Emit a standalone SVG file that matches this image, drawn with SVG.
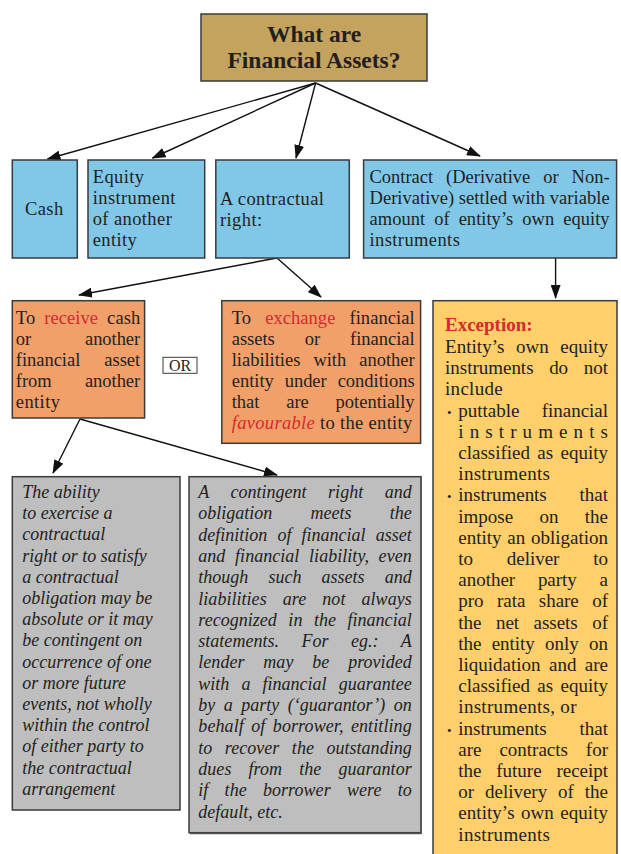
<svg xmlns="http://www.w3.org/2000/svg" width="621" height="854" viewBox="0 0 621 854">
<defs>
<style>
.box{stroke:#3a3a3a;stroke-width:1.5}
text{font-family:"Liberation Serif","Times New Roman",serif;fill:#231f20}
.r{font-size:18.5px;letter-spacing:0.4px}
.y{font-size:19px;letter-spacing:0.3px}
.i{font-size:18px;font-style:italic}
.t{font-size:23.5px;font-weight:bold}
.red{fill:#d52a2f}
.conn{stroke:#111;stroke-width:1.4;fill:none}
</style>
<marker id="ah" markerUnits="userSpaceOnUse" markerWidth="14" markerHeight="10" viewBox="0 0 14 10" refX="13" refY="5" orient="auto">
<path d="M0,0 L14,5 L0,10 z" fill="#111"/>
</marker>
</defs>
<rect width="621" height="854" fill="#ffffff"/>

<g id="connectors">
<line class="conn" x1="315.6" y1="83" x2="47.5" y2="159" marker-end="url(#ah)"/>
<line class="conn" x1="315.6" y1="83" x2="152.5" y2="158" marker-end="url(#ah)"/>
<line class="conn" x1="315.6" y1="83" x2="296" y2="158" marker-end="url(#ah)"/>
<line class="conn" x1="315.6" y1="83" x2="480" y2="156" marker-end="url(#ah)"/>
<line class="conn" x1="277" y1="258" x2="79" y2="295" marker-end="url(#ah)"/>
<line class="conn" x1="277" y1="258" x2="321" y2="297" marker-end="url(#ah)"/>
<line class="conn" x1="555.6" y1="258" x2="555.6" y2="298" marker-end="url(#ah)"/>
<line class="conn" x1="80" y1="419" x2="53" y2="473" marker-end="url(#ah)"/>
<line class="conn" x1="80" y1="419" x2="277" y2="475" marker-end="url(#ah)"/>
</g>

<g id="title">
<rect class="box" x="201" y="14" width="226" height="67" fill="#c4a35e"/>
<text class="t" x="314" y="42" text-anchor="middle">What are</text>
<text class="t" x="314" y="68" text-anchor="middle">Financial Assets?</text>
</g>

<g id="cash">
<rect class="box" x="12.3" y="160" width="65" height="98" fill="#80c7e8"/>
<text class="r" x="25" y="215">Cash</text>
</g>

<g id="equity">
<rect class="box" x="88" y="160" width="116.7" height="98" fill="#80c7e8"/>
<text class="r" x="92.7" y="183">Equity</text>
<text class="r" x="92.7" y="204">instrument</text>
<text class="r" x="92.7" y="225">of another</text>
<text class="r" x="92.7" y="246">entity</text>
</g>

<g id="contractual-right">
<rect class="box" x="215.8" y="160" width="133.5" height="98" fill="#80c7e8"/>
<text class="r" x="220" y="205">A contractual</text>
<text class="r" x="220" y="226">right:</text>
</g>

<g id="contract">
<rect class="box" x="363.6" y="160" width="253" height="98" fill="#80c7e8"/>
<text class="r" x="369.5" y="183" style="word-spacing:8.4px" textLength="240.5" lengthAdjust="spacing">Contract (Derivative or Non-</text>
<text class="r" x="369.5" y="204" style="word-spacing:0px" textLength="240.5" lengthAdjust="spacing">Derivative) settled with variable</text>
<text class="r" x="369.5" y="225" style="word-spacing:4.4px" textLength="240.5" lengthAdjust="spacing">amount of entity’s own equity</text>
<text class="r" x="369.5" y="246">instruments</text>
</g>

<g id="receive">
<rect class="box" x="12.3" y="300.7" width="132.3" height="117.3" fill="#f2a06a"/>
<text class="r" x="15.8" y="324" style="word-spacing:4.3px" textLength="124.8" lengthAdjust="spacing">To <tspan class="red">receive</tspan> cash</text>
<text class="r" x="15.8" y="345" style="word-spacing:49.3px" textLength="124.8" lengthAdjust="spacing">or another</text>
<text class="r" x="15.8" y="366" style="word-spacing:19.5px" textLength="124.8" lengthAdjust="spacing">financial asset</text>
<text class="r" x="15.8" y="387" style="word-spacing:28.7px" textLength="124.8" lengthAdjust="spacing">from another</text>
<text class="r" x="15.8" y="408">entity</text>
</g>

<g id="or">
<rect x="163" y="357.3" width="34" height="16" fill="#ffffff" stroke="#3a3a3a" stroke-width="1"/>
<text x="180" y="371" text-anchor="middle" style="font-size:16px">OR</text>
</g>

<g id="exchange">
<rect class="box" x="221.8" y="300.7" width="198.8" height="142.6" fill="#f2a06a"/>
<text class="r" x="231.7" y="324" style="word-spacing:9.4px" textLength="183.3" lengthAdjust="spacing">To <tspan class="red">exchange</tspan> financial</text>
<text class="r" x="231.7" y="345" style="word-spacing:25.4px" textLength="183.3" lengthAdjust="spacing">assets or financial</text>
<text class="r" x="231.7" y="366" style="word-spacing:8.4px" textLength="183.3" lengthAdjust="spacing">liabilities with another</text>
<text class="r" x="231.7" y="387" style="word-spacing:6.3px" textLength="183.3" lengthAdjust="spacing">entity under conditions</text>
<text class="r" x="231.7" y="408" style="word-spacing:22.2px" textLength="183.3" lengthAdjust="spacing">that are potentially</text>
<text class="r" x="231.7" y="429" textLength="181" lengthAdjust="spacing"><tspan class="red" font-style="italic">favourable</tspan> to the entity</text>
</g>

<g id="exception">
<rect class="box" x="433" y="300.7" width="184" height="560" fill="#fecf6b"/>
<text class="y red" x="445" y="331" font-weight="bold" style="letter-spacing:0">Exception:</text>
<text class="y" x="445" y="353" style="word-spacing:6.7px" textLength="163.3" lengthAdjust="spacing">Entity’s own equity</text>
<text class="y" x="445" y="374.2" style="word-spacing:10.9px" textLength="163.3" lengthAdjust="spacing">instruments do not</text>
<text class="y" x="445" y="395.4">include</text>
<text x="447" y="416.6" style="font-size:13px">•</text>
<text class="y" x="458.3" y="416.6" style="word-spacing:17.6px" textLength="150" lengthAdjust="spacing">puttable financial</text>
<text class="y" x="458.3" y="437.8" textLength="150" lengthAdjust="spacing">instruments</text>
<text class="y" x="458.3" y="459" style="word-spacing:2.7px" textLength="150" lengthAdjust="spacing">classified as equity</text>
<text class="y" x="458.3" y="480.2">instruments</text>
<text x="447" y="501.4" style="font-size:13px">•</text>
<text class="y" x="458.3" y="501.4" style="word-spacing:28.1px" textLength="150" lengthAdjust="spacing">instruments that</text>
<text class="y" x="458.3" y="522.6" style="word-spacing:21.7px" textLength="150" lengthAdjust="spacing">impose on the</text>
<text class="y" x="458.3" y="543.8" style="word-spacing:1.1px" textLength="150" lengthAdjust="spacing">entity an obligation</text>
<text class="y" x="458.3" y="565" style="word-spacing:29.1px" textLength="150" lengthAdjust="spacing">to deliver to</text>
<text class="y" x="458.3" y="586.2" style="word-spacing:18px" textLength="150" lengthAdjust="spacing">another party a</text>
<text class="y" x="458.3" y="607.4" style="word-spacing:8.7px" textLength="150" lengthAdjust="spacing">pro rata share of</text>
<text class="y" x="458.3" y="628.6" style="word-spacing:9.7px" textLength="150" lengthAdjust="spacing">the net assets of</text>
<text class="y" x="458.3" y="649.8" style="word-spacing:5.5px" textLength="150" lengthAdjust="spacing">the entity only on</text>
<text class="y" x="458.3" y="671" style="word-spacing:3.7px" textLength="150" lengthAdjust="spacing">liquidation and are</text>
<text class="y" x="458.3" y="692.2" style="word-spacing:2.7px" textLength="150" lengthAdjust="spacing">classified as equity</text>
<text class="y" x="458.3" y="713.4">instruments, or</text>
<text x="447" y="734.6" style="font-size:13px">•</text>
<text class="y" x="458.3" y="734.6" style="word-spacing:28.1px" textLength="150" lengthAdjust="spacing">instruments that</text>
<text class="y" x="458.3" y="755.8" style="word-spacing:13.3px" textLength="150" lengthAdjust="spacing">are contracts for</text>
<text class="y" x="458.3" y="777" style="word-spacing:10.1px" textLength="150" lengthAdjust="spacing">the future receipt</text>
<text class="y" x="458.3" y="798.2" style="word-spacing:6.2px" textLength="150" lengthAdjust="spacing">or delivery of the</text>
<text class="y" x="458.3" y="819.4" style="word-spacing:1.6px" textLength="150" lengthAdjust="spacing">entity’s own equity</text>
<text class="y" x="458.3" y="840.6">instruments</text>
</g>

<g id="ability">
<rect class="box" x="12.3" y="476.7" width="167.7" height="333.3" fill="#bebebe"/>
<text class="i" x="22.3" y="498">The ability</text>
<text class="i" x="22.3" y="519.2">to exercise a</text>
<text class="i" x="22.3" y="540.4">contractual</text>
<text class="i" x="22.3" y="561.6">right or to satisfy</text>
<text class="i" x="22.3" y="582.8">a contractual</text>
<text class="i" x="22.3" y="604">obligation may be</text>
<text class="i" x="22.3" y="625.2">absolute or it may</text>
<text class="i" x="22.3" y="646.4">be contingent on</text>
<text class="i" x="22.3" y="667.6">occurrence of one</text>
<text class="i" x="22.3" y="688.8">or more future</text>
<text class="i" x="22.3" y="710">events, not wholly</text>
<text class="i" x="22.3" y="731.2">within the control</text>
<text class="i" x="22.3" y="752.4">of either party to</text>
<text class="i" x="22.3" y="773.6">the contractual</text>
<text class="i" x="22.3" y="794.8">arrangement</text>
</g>

<g id="contingent">
<rect class="box" x="189" y="476.7" width="232" height="356" fill="#bebebe"/>
<path d="M421,478 V833.5 H190" fill="none" stroke="#555" stroke-width="1.5"/>
<text class="i" x="198.3" y="498" style="word-spacing:17px" textLength="213.4" lengthAdjust="spacing">A contingent right and</text>
<text class="i" x="198.3" y="519.3" style="word-spacing:33.7px" textLength="213.4" lengthAdjust="spacing">obligation meets the</text>
<text class="i" x="198.3" y="540.6" style="word-spacing:5.6px" textLength="213.4" lengthAdjust="spacing">definition of financial asset</text>
<text class="i" x="198.3" y="561.9" style="word-spacing:5.1px" textLength="213.4" lengthAdjust="spacing">and financial liability, even</text>
<text class="i" x="198.3" y="583.2" style="word-spacing:15.6px" textLength="213.4" lengthAdjust="spacing">though such assets and</text>
<text class="i" x="198.3" y="604.5" style="word-spacing:11.6px" textLength="213.4" lengthAdjust="spacing">liabilities are not always</text>
<text class="i" x="198.3" y="625.8" style="word-spacing:7px" textLength="213.4" lengthAdjust="spacing">recognized in the financial</text>
<text class="i" x="198.3" y="647.1" style="word-spacing:18px" textLength="213.4" lengthAdjust="spacing">statements. For eg.: A</text>
<text class="i" x="198.3" y="668.4" style="word-spacing:14.3px" textLength="213.4" lengthAdjust="spacing">lender may be provided</text>
<text class="i" x="198.3" y="689.7" style="word-spacing:7.6px" textLength="213.4" lengthAdjust="spacing">with a financial guarantee</text>
<text class="i" x="198.3" y="711" style="word-spacing:4.1px" textLength="213.4" lengthAdjust="spacing">by a party (‘guarantor’) on</text>
<text class="i" x="198.3" y="732.3" style="word-spacing:2.8px" textLength="213.4" lengthAdjust="spacing">behalf of borrower, entitling</text>
<text class="i" x="198.3" y="753.6" style="word-spacing:8px" textLength="213.4" lengthAdjust="spacing">to recover the outstanding</text>
<text class="i" x="198.3" y="774.9" style="word-spacing:12.6px" textLength="213.4" lengthAdjust="spacing">dues from the guarantor</text>
<text class="i" x="198.3" y="796.2" style="word-spacing:11.6px" textLength="213.4" lengthAdjust="spacing">if the borrower were to</text>
<text class="i" x="198.3" y="817.5">default, etc.</text>
</g>
</svg>
